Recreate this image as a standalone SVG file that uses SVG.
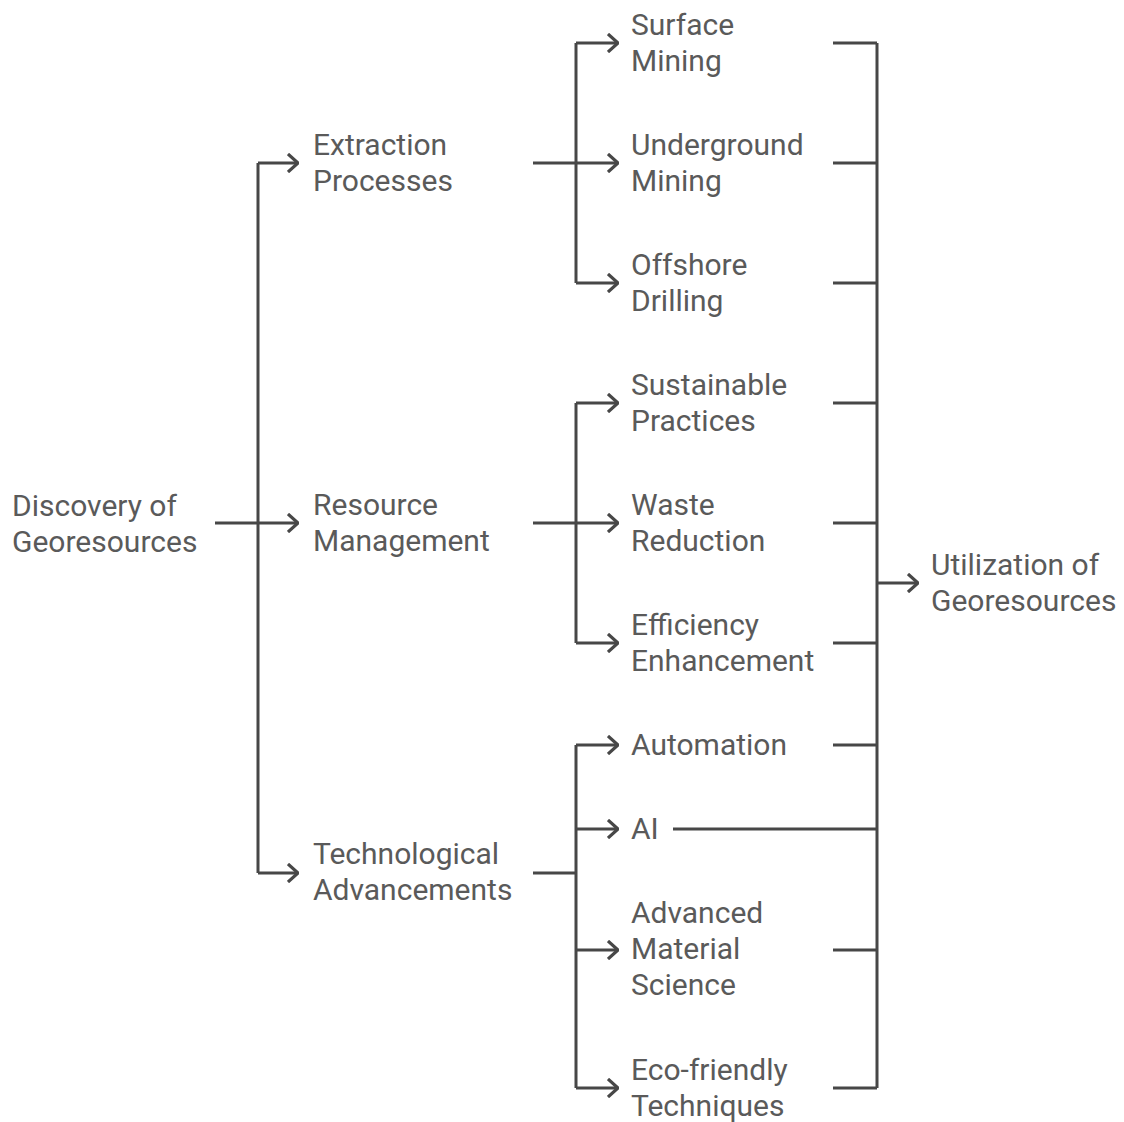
<svg xmlns="http://www.w3.org/2000/svg" width="1124" height="1122" viewBox="0 0 1124 1122">
<defs>
<style>
text{font-family:Roboto,"Noto Sans",sans-serif;font-size:30px;fill:#5a5a5a}
.c{fill:none;stroke:#474747;stroke-width:3}
</style>
<marker id="ah" viewBox="0 0 12 20" refX="11" refY="10" markerWidth="12" markerHeight="20" markerUnits="userSpaceOnUse" orient="auto">
<polyline points="1,1 11,10 1,19" fill="none" stroke="#474747" stroke-width="3.2"/>
</marker>
</defs>
<rect width="1124" height="1122" fill="#fff"/>
<g id="connectors" class="c">
<path class="c" d="M215 523H298" marker-end="url(#ah)"/>
<path class="c" d="M258 163V873"/>
<path class="c" d="M258 163H298" marker-end="url(#ah)"/>
<path class="c" d="M258 873H298" marker-end="url(#ah)"/>
<path class="c" d="M533 163H618" marker-end="url(#ah)"/>
<path class="c" d="M576 43V283"/>
<path class="c" d="M576 43H618" marker-end="url(#ah)"/>
<path class="c" d="M576 283H618" marker-end="url(#ah)"/>
<path class="c" d="M533 523H618" marker-end="url(#ah)"/>
<path class="c" d="M576 403V643"/>
<path class="c" d="M576 403H618" marker-end="url(#ah)"/>
<path class="c" d="M576 643H618" marker-end="url(#ah)"/>
<path class="c" d="M533 873H576"/>
<path class="c" d="M576 745V1088"/>
<path class="c" d="M576 745H618" marker-end="url(#ah)"/>
<path class="c" d="M576 829H618" marker-end="url(#ah)"/>
<path class="c" d="M576 950H618" marker-end="url(#ah)"/>
<path class="c" d="M576 1088H618" marker-end="url(#ah)"/>
<path class="c" d="M833 43H877M833 163H877M833 283H877M833 403H877M833 523H877M833 643H877M833 745H877M673 829H877M833 950H877M833 1088H877"/>
<path class="c" d="M877 43V1088"/>
<path class="c" d="M877 583H918" marker-end="url(#ah)"/>
</g>
<g id="discovery"><text x="12" y="516">Discovery of</text><text x="12" y="552">Georesources</text></g>
<g id="extraction"><text x="313" y="155">Extraction</text><text x="313" y="191">Processes</text></g>
<g id="resource"><text x="313" y="515">Resource</text><text x="313" y="551">Management</text></g>
<g id="technological"><text x="313" y="864">Technological</text><text x="313" y="900">Advancements</text></g>
<g id="surface"><text x="631" y="35">Surface</text><text x="631" y="71">Mining</text></g>
<g id="underground"><text x="631" y="155">Underground</text><text x="631" y="191">Mining</text></g>
<g id="offshore"><text x="631" y="275">Offshore</text><text x="631" y="311">Drilling</text></g>
<g id="sustainable"><text x="631" y="395">Sustainable</text><text x="631" y="431">Practices</text></g>
<g id="waste"><text x="631" y="515">Waste</text><text x="631" y="551">Reduction</text></g>
<g id="efficiency"><text x="631" y="635">Efficiency</text><text x="631" y="671">Enhancement</text></g>
<g id="automation"><text x="631" y="755">Automation</text></g>
<g id="ai"><text x="631" y="839">AI</text></g>
<g id="advanced"><text x="631" y="923">Advanced</text><text x="631" y="959">Material</text><text x="631" y="995">Science</text></g>
<g id="ecofriendly"><text x="631" y="1080">Eco-friendly</text><text x="631" y="1116">Techniques</text></g>
<g id="utilization"><text x="931" y="575">Utilization of</text><text x="931" y="611">Georesources</text></g>
</svg>
